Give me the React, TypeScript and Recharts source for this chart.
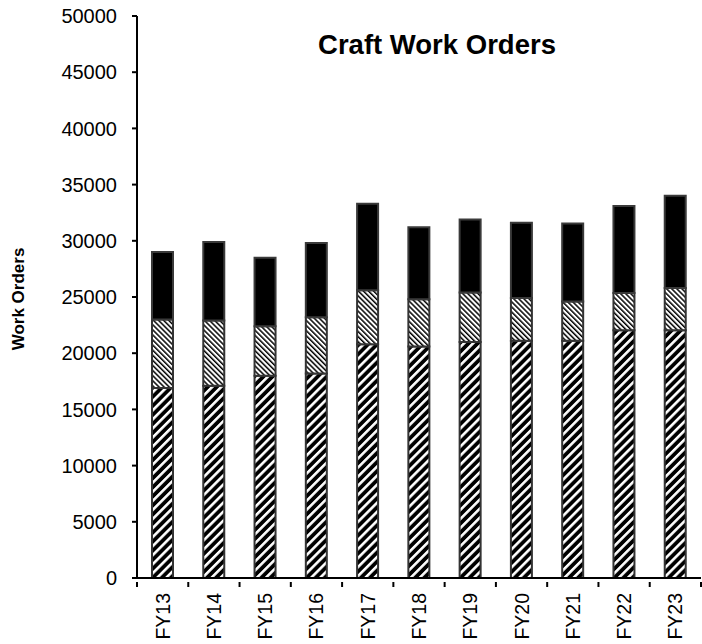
import React from 'react';
import { BarChart, Bar, XAxis, YAxis } from 'recharts';

const years = ['FY13', 'FY14', 'FY15', 'FY16', 'FY17', 'FY18', 'FY19', 'FY20', 'FY21', 'FY22', 'FY23'];
// stacked segments, bottom to top
const base = [16900, 17100, 18000, 18200, 20800, 20600, 21000, 21100, 21100, 22050, 22050];
const middle = [6100, 5800, 4400, 5000, 4800, 4200, 4400, 3800, 3500, 3300, 3750];
const upper = [6000, 7000, 6100, 6600, 7700, 6400, 6500, 6700, 6950, 7750, 8200];
const yTicks = [0, 5000, 10000, 15000, 20000, 25000, 30000, 35000, 40000, 45000, 50000];

const data = years.map((fy, i) => ({ fy, base: base[i], middle: middle[i], upper: upper[i] }));

const FONT = '"Liberation Sans", Arial, sans-serif';

function YearTick(props: any) {
  const { x, y, payload, index, width, visibleTicksCount } = props;
  const band = width && visibleTicksCount ? width / visibleTicksCount : 51.3;
  return (
    <g>
      {index === 0 && <line x1={x - band / 2} y1={y - 4} x2={x - band / 2} y2={y + 1} stroke="#000" strokeWidth={2} />}
      <line x1={x + band / 2} y1={y - 4} x2={x + band / 2} y2={y + 1} stroke="#000" strokeWidth={2} />
      <text
        x={x}
        y={y + 7}
        transform={`rotate(-90, ${x}, ${y + 7})`}
        textAnchor="end"
        dominantBaseline="central"
        fontSize={19.5}
        fontFamily={FONT}
        fill="#000"
      >
        {payload.value}
      </text>
    </g>
  );
}

export default function App() {
  return (
    <div style={{ position: 'absolute', left: 0, top: 0, width: 702, height: 644, background: '#fff' }}>
      <BarChart width={702} height={644} data={data} margin={{ top: 16, right: 1, left: 0, bottom: 0 }} barCategoryGap={0}>
        <defs>
          <pattern id="wideStripe" width="6.4" height="6.4" patternUnits="userSpaceOnUse" patternTransform="rotate(45)">
            <rect width="6.4" height="6.4" fill="#000" />
            <rect width="2.6" height="6.4" fill="#fff" />
          </pattern>
          <pattern id="thinStripe" width="3.6" height="3.6" patternUnits="userSpaceOnUse" patternTransform="rotate(-45)">
            <rect width="3.6" height="3.6" fill="#fff" />
            <rect width="1.5" height="3.6" fill="#000" />
          </pattern>
        </defs>
        <XAxis
          dataKey="fy"
          height={66}
          interval={0}
          tickLine={false}
          axisLine={{ stroke: '#000', strokeWidth: 2 }}
          tick={<YearTick />}
        />
        <YAxis
          width={137}
          domain={[0, 50000]}
          ticks={yTicks}
          interval={0}
          tickSize={5}
          tickMargin={15}
          axisLine={{ stroke: '#000', strokeWidth: 2 }}
          tickLine={{ stroke: '#000', strokeWidth: 2 }}
          tick={{ fontSize: 20, fontFamily: FONT, fill: '#000' }}
          label={({ viewBox }: any) => {
            const cy = viewBox.y + viewBox.height / 2 + 2;
            return (
              <text
                x={18}
                y={cy}
                transform={`rotate(-90, 18, ${cy})`}
                textAnchor="middle"
                dominantBaseline="central"
                fontSize={17}
                fontWeight="bold"
                fontFamily={FONT}
                fill="#000"
              >
                Work Orders
              </text>
            );
          }}
        />
        <Bar dataKey="base" stackId="a" barSize={21} fill="url(#wideStripe)" stroke="#333" strokeWidth={2} isAnimationActive={false} />
        <Bar dataKey="middle" stackId="a" barSize={21} fill="url(#thinStripe)" stroke="#333" strokeWidth={2} isAnimationActive={false} />
        <Bar dataKey="upper" stackId="a" barSize={21} fill="#000" stroke="#3a3a3a" strokeWidth={2} isAnimationActive={false} />
      </BarChart>
      <div
        style={{
          position: 'absolute',
          left: 287,
          width: 300,
          top: 29,
          lineHeight: '32px',
          fontFamily: FONT,
          fontWeight: 'bold',
          fontSize: 27.5,
          whiteSpace: 'nowrap',
          display: 'flex',
          justifyContent: 'center',
        }}
      >
        Craft Work Orders
      </div>
    </div>
  );
}
